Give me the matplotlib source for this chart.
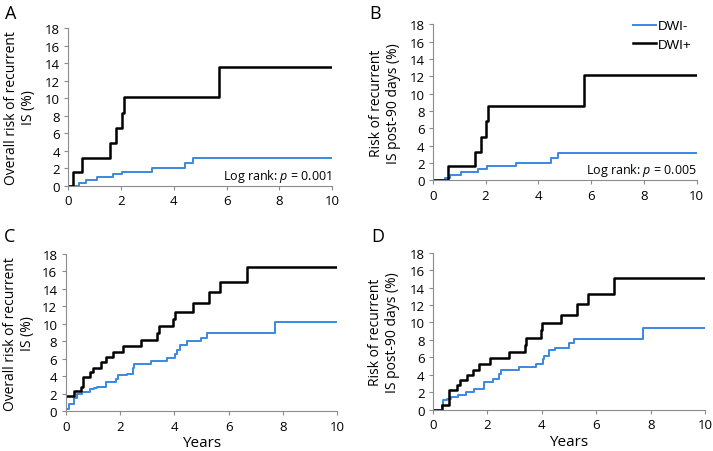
import matplotlib
matplotlib.use("Agg")
import matplotlib.pyplot as plt

plt.rcParams['font.family'] = ['Open Sans', 'DejaVu Sans']
plt.rcParams['mathtext.fontset'] = 'custom'
plt.rcParams['mathtext.rm'] = 'Open Sans'
plt.rcParams['mathtext.it'] = 'Open Sans:italic'

BLUE = '#3a88e2'

# A: overall risk, DWI- / DWI+
a_neg_x = [0, 0.39, 0.67, 1.07, 1.68, 2.03, 3.17, 4.43, 4.71, 10]
a_neg_y = [0, 0.3, 0.65, 0.95, 1.3, 1.6, 2.0, 2.6, 3.2, 3.2]
a_pos_x = [0, 0.16, 0.52, 1.58, 1.79, 2.03, 2.1, 5.7, 10]
a_pos_y = [0, 1.6, 3.2, 4.9, 6.6, 8.3, 10.1, 13.6, 13.6]

# B: risk post-90 days
b_neg_x = [0, 0.48, 0.66, 1.06, 1.72, 2.07, 3.16, 4.47, 4.75, 10]
b_neg_y = [0, 0.3, 0.65, 0.95, 1.3, 1.6, 2.0, 2.6, 3.2, 3.2]
b_pos_x = [0, 0.56, 1.6, 1.82, 2.03, 2.1, 5.73, 10]
b_pos_y = [0, 1.7, 3.3, 5.0, 6.8, 8.6, 12.2, 12.2]

# C: overall risk, all strokes
c_neg_x = [0, 0.11, 0.31, 0.4, 0.6, 0.9, 1.04, 1.14, 1.48, 1.85, 1.93, 2.25,
           2.47, 2.52, 3.15, 3.72, 4.01, 4.09, 4.21, 4.48, 5.0, 5.19, 7.72, 10]
c_neg_y = [0.3, 0.8, 1.5, 2.0, 2.2, 2.5, 2.7, 2.8, 3.3, 3.7, 4.1, 4.3,
           4.9, 5.4, 5.7, 6.1, 6.5, 7.0, 7.6, 8.0, 8.4, 8.9, 10.2, 10.2]
c_pos_x = [0, 0.31, 0.58, 0.63, 0.9, 1.02, 1.29, 1.48, 1.75, 2.1, 2.79, 3.37,
           3.42, 3.96, 4.01, 4.7, 5.26, 5.68, 6.66, 10]
c_pos_y = [1.7, 2.3, 2.8, 3.9, 4.5, 5.0, 5.6, 6.2, 6.8, 7.5, 8.2, 8.9,
           9.8, 10.6, 11.4, 12.4, 13.6, 14.8, 16.5, 16.5]

# D: risk post-90 days, all strokes
d_neg_x = [0, 0.32, 0.39, 0.51, 0.68, 0.93, 1.22, 1.52, 1.88, 2.22, 2.44, 2.52,
           3.15, 3.79, 4.03, 4.08, 4.25, 4.5, 5.01, 5.18, 7.7, 10]
d_neg_y = [0, 0.6, 1.1, 1.3, 1.5, 1.7, 2.0, 2.4, 3.2, 3.5, 4.1, 4.6,
           4.9, 5.2, 5.8, 6.2, 6.8, 7.1, 7.6, 8.1, 9.4, 9.4]
d_pos_x = [0, 0.32, 0.61, 0.9, 1.0, 1.27, 1.47, 1.71, 2.1, 2.79, 3.37, 3.42,
           3.96, 4.01, 4.72, 5.28, 5.7, 6.67, 10]
d_pos_y = [0, 0.6, 2.3, 2.9, 3.4, 4.0, 4.6, 5.3, 5.9, 6.6, 7.4, 8.2,
           9.1, 9.9, 10.9, 12.1, 13.3, 15.1, 15.1]

ylab_overall = 'Overall risk of recurrent\nIS (%)'
ylab_post = 'Risk of recurrent\nIS post-90 days (%)'

fig = plt.figure(figsize=(7.13, 4.52), dpi=100)

panels = [
    ('A', [0.0958, 0.587, 0.370, 0.348], a_neg_x, a_neg_y, a_pos_x, a_pos_y,
     ylab_overall, 'Log rank: $\\it{p}$ = 0.001', False, (5, 5), 20),
    ('B', [0.607, 0.599, 0.370, 0.345], b_neg_x, b_neg_y, b_pos_x, b_pos_y,
     ylab_post, 'Log rank: $\\it{p}$ = 0.005', False, (369, 5), 385),
    ('C', [0.0921, 0.088, 0.381, 0.348], c_neg_x, c_neg_y, c_pos_x, c_pos_y,
     ylab_overall, None, True, (4, 228), 19),
    ('D', [0.607, 0.091, 0.382, 0.348], d_neg_x, d_neg_y, d_pos_x, d_pos_y,
     ylab_post, None, True, (371, 228), 384),
]

for letter, rect, nx, ny, px, py, ylab, note, years, lpos, ylx in panels:
    ax = fig.add_axes(rect)
    ax.step(nx, ny, where='post', color=BLUE, lw=1.4, label='DWI-')
    ax.step(px, py, where='post', color='black', lw=1.8, label='DWI+')
    ax.set_xlim(0, 10)
    ax.set_ylim(0, 18)
    ax.set_xticks(range(0, 11, 2))
    ax.set_yticks(range(0, 19, 2))
    for s in ['top', 'right']:
        ax.spines[s].set_visible(False)
    for s in ['left', 'bottom']:
        ax.spines[s].set_color('#8c8c8c')
        ax.spines[s].set_linewidth(0.8)
    ax.tick_params(labelsize=9.5, length=3, width=0.8, color='#8c8c8c', pad=3)
    if note:
        ax.text(10, 1.2, note, ha='right', va='center', fontsize=9)
    if years:
        ax.set_xlabel('Years', fontsize=11, labelpad=2)
    # two-line y label, placed in figure pixels
    b = ax.get_position()
    fig.text(ylx / 713, b.y0 + b.height / 2, ylab, rotation=90, ha='center',
             va='center', multialignment='center', fontsize=10,
             linespacing=1.1)
    fig.text(lpos[0] / 713, 1 - lpos[1] / 452, letter, ha='left', va='top',
             fontsize=13)
    if letter == 'B':
        ax.legend(loc='upper right', bbox_to_anchor=(1.0, 1.06), frameon=False,
                  handlelength=1.75, handletextpad=0.15,
                  labelspacing=0.45, borderaxespad=0,
                  prop={'family': 'Liberation Sans', 'size': 9.5})

fig.savefig('out.png', dpi=100)
